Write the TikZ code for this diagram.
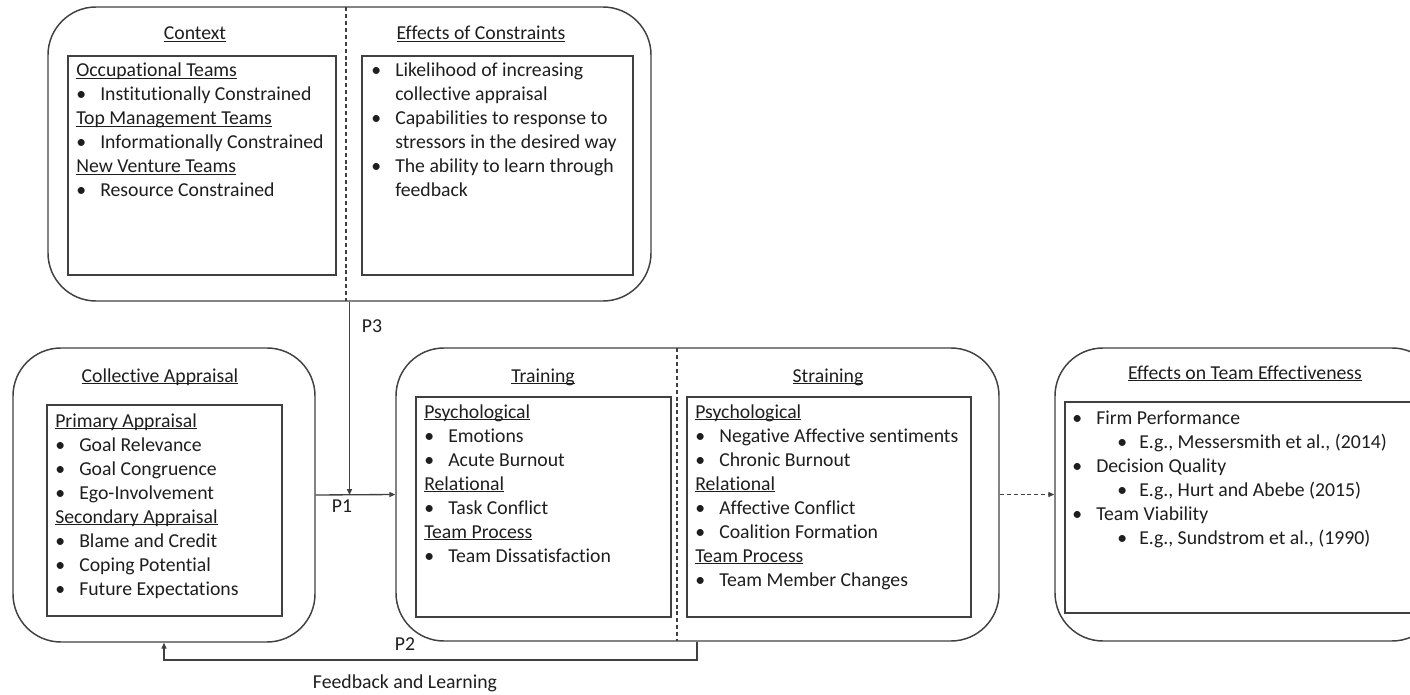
\documentclass[tikz,border=0pt]{standalone}
\usepackage{fontspec}
\setmainfont{Carlito}[Ligatures=NoCommon]
\usetikzlibrary{arrows.meta,fit}

\definecolor{inkline}{RGB}{64,64,64}
\definecolor{inktext}{RGB}{30,30,30}

% one drawing unit = one pixel of the layout grid
\newlength\pxu
\setlength\pxu{0.75pt}

% underline at a fixed depth, crossing the descenders
\newsavebox\ulbox
\newcommand\undl[1]{\sbox\ulbox{#1}\rlap{\rule[-2\pxu]{\wd\ulbox}{1\pxu}}\usebox\ulbox}
\newcommand\bhead[1]{\par\noindent\undl{#1}}
\newcommand\bitem[1]{\par\noindent\hangindent=24\pxu\hangafter=1\makebox[24\pxu][l]{\textbullet}#1}
\newcommand\sbitem[1]{\par\noindent\hspace*{45\pxu}\makebox[22\pxu][l]{\textbullet}#1}
\newcommand\listbox[2]{\parbox[t]{#1\pxu}{\parskip=0pt\raggedright #2}}

\begin{document}
\begin{tikzpicture}[x=0.75pt, y=-0.75pt,
  every node/.style={font=\fontsize{14.8pt}{18pt}\selectfont, text=inktext},
  outerbox/.style={draw=inkline, line width=1.1pt, rounded corners=36pt, inner sep=0pt},
  innerbox/.style={draw=inkline, line width=1.1pt, inner sep=0pt},
  listtext/.style={anchor=base west, inner sep=0pt},
  heading/.style={anchor=base, inner sep=0pt},
  divider/.style={draw=inkline, line width=0.9pt, dash pattern=on 3pt off 2.2pt},
  link/.style={draw=inkline, line width=1pt},
  arr/.style={link, -{Triangle[length=4.5pt,width=3.8pt]}},
  dasharr/.style={arr, dash pattern=on 3pt off 2.2pt}
]
\clip (0,0) rectangle (1410,695);

% ---------- context and constraints ----------
\node[outerbox, fit={(48,7) (651,301)}] (top) {};
\draw[divider] (346,7) -- (346,301);
\node[heading] (ctxtitle) at (195,40) {\undl{Context}};
\node[heading] (efftitle) at (481,40) {\undl{Effects of Constraints}};
\node[innerbox, fit={(68,56) (336,275)}] (ctxbox) {};
\node[innerbox, fit={(362,56) (633,275)}] (effbox) {};
\node[listtext] (ctxlist) at (76,77) {\listbox{255}{%
  \bhead{Occupational Teams}
  \bitem{Institutionally Constrained}
  \bhead{Top Management Teams}
  \bitem{Informationally Constrained}
  \bhead{New Venture Teams}
  \bitem{Resource Constrained}}};
\node[listtext] (efflist) at (371,77) {\listbox{258}{%
  \bitem{Likelihood of increasing\newline collective appraisal}
  \bitem{Capabilities to response to\newline stressors in the desired way}
  \bitem{The ability to learn through\newline feedback}}};

% ---------- collective appraisal ----------
\node[outerbox, fit={(13,348) (315,642)}] (coll) {};
\node[heading] (colltitle) at (160,382) {\undl{Collective Appraisal}};
\node[innerbox, fit={(47,405) (282,616)}] (collbox) {};
\node[listtext] (colllist) at (55,427) {\listbox{225}{%
  \bhead{Primary Appraisal}
  \bitem{Goal Relevance}
  \bitem{Goal Congruence}
  \bitem{Ego-Involvement}
  \bhead{Secondary Appraisal}
  \bitem{Blame and Credit}
  \bitem{Coping Potential}
  \bitem{Future Expectations}}};

% ---------- training and straining ----------
\node[outerbox, fit={(396,348) (999,641)}] (train) {};
\draw[divider] (677,348) -- (677,641);
\node[heading] (traintitle) at (543,382) {\undl{Training}};
\node[heading] (straintitle) at (828,382) {\undl{Straining}};
\node[innerbox, fit={(416,397) (671,617)}] (trainbox) {};
\node[innerbox, fit={(687,397) (971,617)}] (strainbox) {};
\node[listtext] (trainlist) at (424,418) {\listbox{245}{%
  \bhead{Psychological}
  \bitem{Emotions}
  \bitem{Acute Burnout}
  \bhead{Relational}
  \bitem{Task Conflict}
  \bhead{Team Process}
  \bitem{Team Dissatisfaction}}};
\node[listtext] (strainlist) at (695,418) {\listbox{275}{%
  \bhead{Psychological}
  \bitem{Negative Affective sentiments}
  \bitem{Chronic Burnout}
  \bhead{Relational}
  \bitem{Affective Conflict}
  \bitem{Coalition Formation}
  \bhead{Team Process}
  \bitem{Team Member Changes}}};

% ---------- team effectiveness ----------
\node[outerbox, fit={(1055,348) (1440,641)}] (eff) {};
\node[heading] (outtitle) at (1245,379) {\undl{Effects on Team Effectiveness}};
\node[innerbox, fit={(1065,402) (1425,613)}] (outbox) {};
\node[listtext] (outlist) at (1072,424) {\listbox{340}{%
  \bitem{Firm Performance}
  \sbitem{E.g., Messersmith et al., (2014)}
  \bitem{Decision Quality}
  \sbitem{E.g., Hurt and Abebe (2015)}
  \bitem{Team Viability}
  \sbitem{E.g., Sundstrom et al., (1990)}}};

% ---------- connectors ----------
\draw[arr] (coll.east) -- (train.west);
\draw[arr] (top.south) -- (top.south |- coll.east);
\draw[dasharr] (train.east) -- (eff.west);
\coordinate (fbturn) at (697,660);
\draw[arr] (train.south -| fbturn) -- (fbturn) -- (fbturn -| coll.south) -- (coll.south);

\node[heading] (p3) at (372,333) {P3};
\node[heading] (p1) at (342,512) {P1};
\node[heading] (p2) at (405,650) {P2};
\node[heading] (fb) at (405,688) {Feedback and Learning};
\end{tikzpicture}
\end{document}
